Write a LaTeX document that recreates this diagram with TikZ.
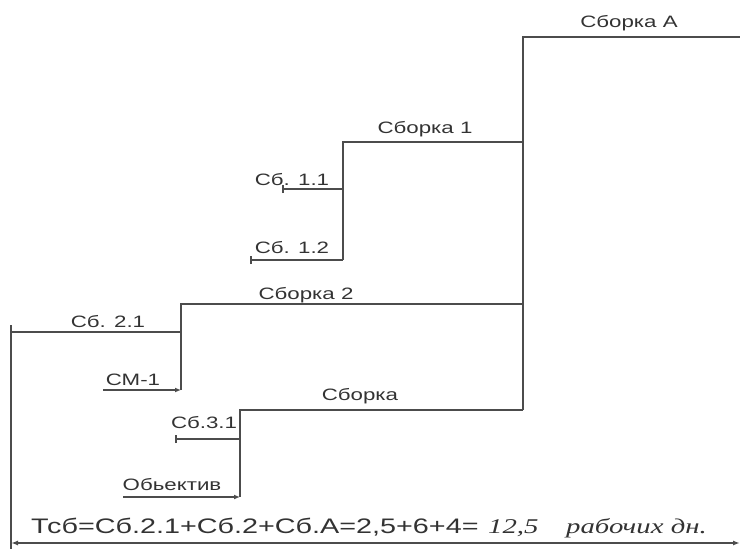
\documentclass[tikz,border=0pt]{standalone}
\usepackage{fontspec}
\usepackage{graphicx}
\setmainfont{Liberation Sans}
\newfontfamily\itfont{Liberation Serif}
\usetikzlibrary{arrows.meta}
\newcommand\sxw[1]{\scalebox{1.35}[1]{#1}}
\tikzset{
  ln/.style={line width=1.6pt, draw=black!70},
  lab/.style={font=\fontsize{16.5}{18}\selectfont, inner sep=0pt, anchor=base, text=black!80},
  bot/.style={font=\fontsize{21}{24}\selectfont, inner sep=0pt, anchor=base west, text=black!80},
  tick/.style={{Bar[width=8pt,line width=1.6pt]}-},
  arr/.style={-{Latex[length=6pt,width=5pt]}},
  darr/.style={{Latex[length=7pt,width=5pt]}-{Latex[length=7pt,width=5pt]}}
}
\begin{document}
\begin{tikzpicture}[x=1pt,y=-1pt]
\useasboundingbox (0,0) rectangle (740,549);
% junction coordinates
\coordinate (A0) at (523,37);
\coordinate (A1) at (740,37);
\coordinate (S1a) at (343,142);
\coordinate (S1b) at (523,142);
\coordinate (v1bot) at (343,260);
\coordinate (s11) at (282,189);
\coordinate (s11e) at (343,189);
\coordinate (s12) at (250,260);
\coordinate (S2a) at (181,304);
\coordinate (S2b) at (523,304);
\coordinate (s21) at (11,332);
\coordinate (s21e) at (181,332);
\coordinate (cm1) at (103,390);
\coordinate (cm1e) at (181,390);
\coordinate (S3a) at (240,410);
\coordinate (S3b) at (523,410);
\coordinate (s31) at (175,439);
\coordinate (s31e) at (240,439);
\coordinate (ob) at (123,497);
\coordinate (obe) at (240,497);
\coordinate (L0) at (11,325);
\coordinate (L1) at (11,549);
\coordinate (D0) at (11,543);
\coordinate (D1) at (740,543);
% lines
\draw[ln] (A1) -- (A0) -- (S3b);
\draw[ln] (S1b) -- (S1a) -- (v1bot);
\draw[ln,tick] (s11) -- (s11e);
\draw[ln,tick] (s12) -- (v1bot);
\draw[ln] (S2b) -- (S2a) -- (cm1e);
\draw[ln] (s21) -- (s21e);
\draw[ln,arr] (cm1) -- (cm1e);
\draw[ln] (S3b) -- (S3a) -- (obe);
\draw[ln,tick] (s31) -- (s31e);
\draw[ln,arr] (ob) -- (obe);
\draw[ln] (L0) -- (L1);
\draw[ln,darr] (D0) -- (D1);
% labels
\node[lab] (tA) at (629,27) {\sxw{Сборка А}};
\node[lab] (t1) at (425,133) {\sxw{Сборка 1}};
\node[lab] (t11) at (292,185) {\sxw{Сб. 1.1}};
\node[lab] (t12) at (292,253) {\sxw{Сб. 1.2}};
\node[lab] (t2) at (306,299) {\sxw{Сборка 2}};
\node[lab] (t21) at (108,327) {\sxw{Сб. 2.1}};
\node[lab] (tcm) at (133,385) {\sxw{СМ-1}};
\node[lab] (t3) at (360,400) {\sxw{Сборка}};
\node[lab] (t31) at (204,428) {\sxw{Сб.3.1}};
\node[lab] (tob) at (172,490) {\sxw{Обьектив}};
\node[bot] (form) at (31,533) {\scalebox{1.37}[1]{Тсб=Сб.2.1+Сб.2+Сб.А=2,5+6+4=}};
\node[bot] (res) at (488,533) {\scalebox{1.37}[1]{\itfont\itshape 12,5}};
\node[bot] (res2) at (566,533) {\scalebox{1.37}[1]{\itfont\itshape рабочих дн.}};
\end{tikzpicture}
\end{document}
